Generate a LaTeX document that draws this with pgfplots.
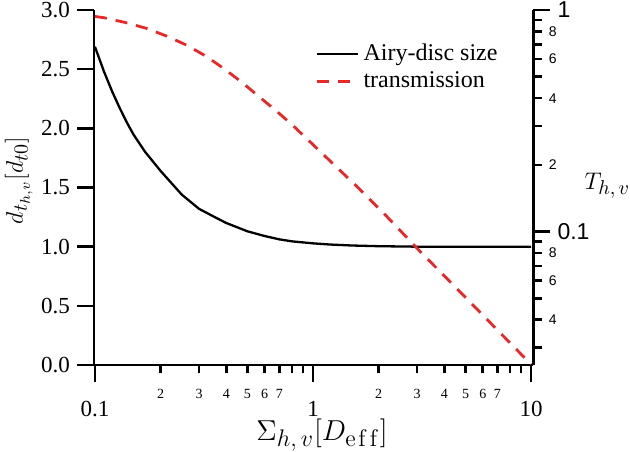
\documentclass[border=0pt]{standalone}
\usepackage[no-math]{fontspec}
\setmainfont{Liberation Serif}
\newfontfamily\sansf{Liberation Sans}
\usepackage{pgfplots}
\pgfplotsset{compat=1.18}
\pgfkeys{/pgf/number format/assume math mode=true}
\definecolor{tred}{RGB}{232,40,40}
\newcommand\subx[1]{\mbox{\fontsize{10}{12}\selectfont$#1$}}
\newcommand\suby[1]{\mbox{\fontsize{11.5}{13}\selectfont$#1$}}
\begin{document}
\begin{tikzpicture}
\begin{axis}[
  at={(0,0)}, anchor=south west,
  scale only axis, width=219.75pt, height=177.5pt,
  xmode=log, xmin=0.099, xmax=10.25,
  axis line style={line width=1.3pt},
  tick style={line width=1.3pt, black},
  tick align=outside,
  major tick length=8.5pt, minor tick length=4.2pt,
  label style={font=\fontsize{12}{14}\selectfont},
  ymin=0, ymax=3,
  axis x line*=bottom, axis y line*=left,
  font=\fontsize{11.5}{13}\selectfont,
  ytick={0,0.5,1,1.5,2,2.5,3},
  yticklabels={0.0,0.5,1.0,1.5,2.0,2.5,3.0},
  xtick={0.1,1,10}, xticklabels={0.1,1,10},
  minor xtick={0.8,0.9,8,9},
  extra x ticks={0.2,0.3,0.4,0.5,0.6,0.7,2,3,4,5,6,7},
  extra x tick labels={2,3,4,5,6,7,2,3,4,5,6,7},
  extra x tick style={major tick length=4.2pt,
    xticklabel style={font=\fontsize{7}{8}\selectfont, yshift=1.5pt}},
  xticklabel style={yshift=-6pt},
  xlabel={\fontsize{13.5}{15}\selectfont$\Sigma_{\suby{h,v}}[D_{\suby{\mathrm{e\mkern2mu f\mkern2mu f}}}]$},
  xlabel style={at={(axis description cs:0.519,-0.197)}, anchor=center},
  ylabel={$d_{\subx{t_{h,v}}}[d_{\subx{t0}}]$},
  ylabel style={at={(axis description cs:-0.171,0.52)}, anchor=center},
]
\addplot[black, line width=1.15pt, line join=round] coordinates {
(0.1,2.69) (0.11,2.48) (0.12,2.31) (0.13,2.17) (0.14,2.05) (0.15,1.95)
(0.17,1.80) (0.2,1.64) (0.25,1.44) (0.3,1.32) (0.35,1.255) (0.4,1.20)
(0.5,1.13) (0.6,1.09) (0.7,1.062) (0.8,1.045) (1.0,1.028) (1.2,1.018)
(1.5,1.01) (2,1.004) (3,1.0) (5,1.0) (10,1.0)
};
\end{axis}
\begin{axis}[
  at={(0,0)}, anchor=south west,
  scale only axis, width=219.75pt, height=177.5pt,
  xmode=log, xmin=0.099, xmax=10.25,
  axis line style={line width=1.3pt},
  tick style={line width=1.3pt, black},
  tick align=outside,
  major tick length=8.5pt, minor tick length=4.2pt,
  label style={font=\fontsize{12}{14}\selectfont},
  ymode=log, ymin=0.025, ymax=1,
  axis y line*=right, axis x line=none,
  ytick={0.1,1}, yticklabels={0.1,1},
  yticklabel style={font=\sansf\fontsize{11.5}{13}\selectfont},
  minor ytick={0.03,0.05,0.07,0.09,0.3,0.5,0.7,0.9},
  extra y ticks={0.04,0.06,0.08,0.2,0.4,0.6,0.8},
  extra y tick labels={4,6,8,2,4,6,8},
  extra y tick style={major tick length=4.2pt,
    yticklabel style={font=\sansf\fontsize{7}{8}\selectfont}},
  ylabel={$T_{\subx{h,v}}$},
  ylabel style={at={(axis description cs:1.168,0.505)}, anchor=center, rotate=-90},
  legend style={at={(axis description cs:0.49,0.927)}, anchor=north west,
    draw=none, fill=none, font=\fontsize{12}{14}\selectfont},
  legend cell align=left,
  legend image code/.code={\draw[#1] (0pt,0pt) -- (20.5pt,0pt);},
]
\addlegendimage{black, line width=1.15pt}
\addlegendentry{Airy-disc size}
\addplot[tred, line width=1.4pt, dash pattern=on 6pt off 4.5pt] coordinates {
(0.1,0.935) (0.11,0.923) (0.1373,0.879) (0.1726,0.826) (0.213,0.763)
(0.2634,0.694) (0.323,0.619) (0.391,0.543) (0.474,0.470) (0.575,0.401)
(0.682,0.349) (0.812,0.300) (1.135,0.219) (1.586,0.160) (2.178,0.117)
(2.99,0.0843) (4.10,0.0615) (5.53,0.0456) (7.34,0.0343) (9.22,0.0273)
(10,0.0252)
};
\addlegendentry{transmission}
\end{axis}
\pgfresetboundingbox
\path (-47pt,-43pt) rectangle (268pt,182.5pt);
\end{tikzpicture}
\end{document}
